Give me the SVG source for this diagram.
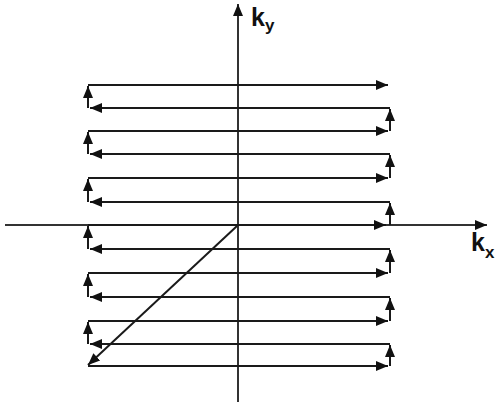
<svg xmlns="http://www.w3.org/2000/svg" width="497" height="408" viewBox="0 0 497 408">
<style>
.ln{stroke:#1a1a1a;stroke-width:2;fill:none}
.ax{stroke:#333;stroke-width:2;fill:none}
.lbl{font-family:"Liberation Sans",Arial,sans-serif;font-weight:bold;fill:#111}
</style>
<defs>
<marker id="ah" markerUnits="userSpaceOnUse" markerWidth="14" markerHeight="12" refX="12" refY="6" orient="auto">
<path d="M0,1 L12,6 L0,11 Z" fill="#111"/>
</marker>
</defs>
<rect width="497" height="408" fill="#fff"/>
<g id="axes">
<line class="ax" x1="5" y1="225" x2="487" y2="225" marker-end="url(#ah)"/>
<line class="ax" x1="238" y1="402" x2="238" y2="4" marker-end="url(#ah)"/>
</g>
<g id="labels">
<text class="lbl" x="251" y="26" font-size="25">k<tspan font-size="17" dy="5">y</tspan></text>
<text class="lbl" x="471" y="251" font-size="25">k<tspan font-size="17" dy="7">x</tspan></text>
</g>
<g id="connectors">
<line class="ln" x1="237" y1="226" x2="88" y2="365" marker-end="url(#ah)"/>
<line class="ln" x1="88" y1="366" x2="388" y2="366" marker-end="url(#ah)"/>
<line class="ln" x1="88" y1="321" x2="388" y2="321" marker-end="url(#ah)"/>
<line class="ln" x1="88" y1="273" x2="388" y2="273" marker-end="url(#ah)"/>
<line class="ln" x1="88" y1="225" x2="386" y2="225" marker-end="url(#ah)"/>
<line class="ln" x1="88" y1="178" x2="388" y2="178" marker-end="url(#ah)"/>
<line class="ln" x1="88" y1="131" x2="388" y2="131" marker-end="url(#ah)"/>
<line class="ln" x1="88" y1="85" x2="388" y2="85" marker-end="url(#ah)"/>
<line class="ln" x1="390" y1="344" x2="90" y2="344" marker-end="url(#ah)"/>
<line class="ln" x1="390" y1="297" x2="90" y2="297" marker-end="url(#ah)"/>
<line class="ln" x1="390" y1="249" x2="90" y2="249" marker-end="url(#ah)"/>
<line class="ln" x1="390" y1="202" x2="90" y2="202" marker-end="url(#ah)"/>
<line class="ln" x1="390" y1="154" x2="90" y2="154" marker-end="url(#ah)"/>
<line class="ln" x1="390" y1="108" x2="90" y2="108" marker-end="url(#ah)"/>
<line class="ln" x1="390" y1="366" x2="390" y2="345" marker-end="url(#ah)"/>
<line class="ln" x1="390" y1="321" x2="390" y2="298" marker-end="url(#ah)"/>
<line class="ln" x1="390" y1="273" x2="390" y2="250" marker-end="url(#ah)"/>
<line class="ln" x1="390" y1="225" x2="390" y2="203" marker-end="url(#ah)"/>
<line class="ln" x1="390" y1="178" x2="390" y2="155" marker-end="url(#ah)"/>
<line class="ln" x1="390" y1="131" x2="390" y2="109" marker-end="url(#ah)"/>
<line class="ln" x1="88" y1="344" x2="88" y2="322" marker-end="url(#ah)"/>
<line class="ln" x1="88" y1="297" x2="88" y2="274" marker-end="url(#ah)"/>
<line class="ln" x1="88" y1="249" x2="88" y2="226" marker-end="url(#ah)"/>
<line class="ln" x1="88" y1="202" x2="88" y2="179" marker-end="url(#ah)"/>
<line class="ln" x1="88" y1="154" x2="88" y2="132" marker-end="url(#ah)"/>
<line class="ln" x1="88" y1="108" x2="88" y2="86" marker-end="url(#ah)"/>
</g>
</svg>
